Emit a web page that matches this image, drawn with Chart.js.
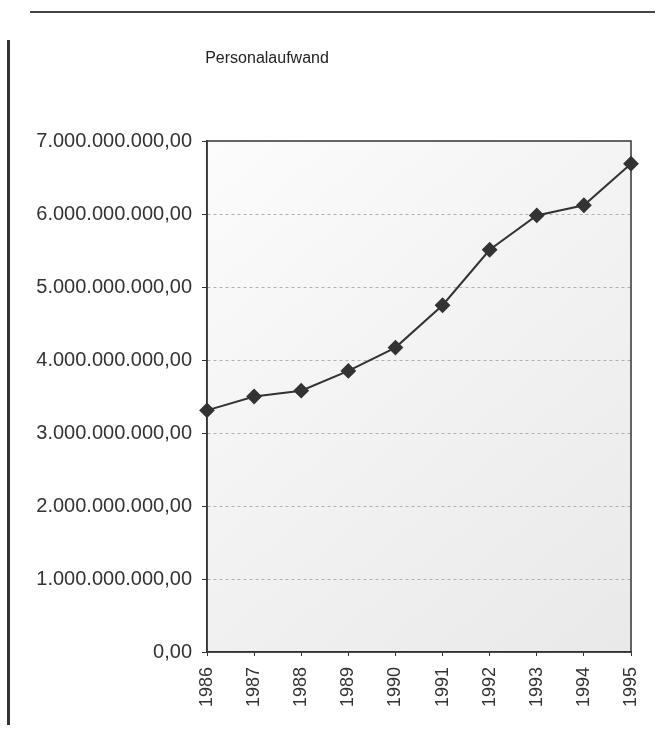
<!DOCTYPE html>
<html>
<head>
<meta charset="utf-8">
<script src="https://cdn.jsdelivr.net/npm/chart.js@4"></script>
<style>
  html, body { margin: 0; padding: 0; background: #ffffff; }
  #wrap { position: relative; width: 669px; height: 743px; }
  #topline { position: absolute; left: 30px; top: 11px; width: 625px; height: 2px; background: #444; }
  #leftline { position: absolute; left: 7px; top: 40px; width: 3px; height: 685px; background: #333; }
  canvas { position: absolute; left: 0; top: 0; }
</style>
</head>
<body>
<div id="wrap">
  <div id="topline"></div>
  <div id="leftline"></div>
  <canvas id="c" width="669" height="743"></canvas>
</div>
<script>
const chartTitle = 'Personalaufwand';
const years = ['1986','1987','1988','1989','1990','1991','1992','1993','1994','1995'];
const personalaufwand = [3.31e9, 3.50e9, 3.58e9, 3.85e9, 4.17e9, 4.75e9, 5.51e9, 5.98e9, 6.12e9, 6.69e9];
const yTickValues = [0, 1e9, 2e9, 3e9, 4e9, 5e9, 6e9, 7e9];
const yTickLabels = ['0,00','1.000.000.000,00','2.000.000.000,00','3.000.000.000,00','4.000.000.000,00','5.000.000.000,00','6.000.000.000,00','7.000.000.000,00'];

const FONT = '"Liberation Sans", Arial, sans-serif';

const framePlugin = {
  id: 'frame',
  beforeDraw(chart) {
    const {ctx, chartArea: a} = chart;
    ctx.save();
    const g = ctx.createLinearGradient(a.left, a.top, a.right, a.bottom);
    g.addColorStop(0, '#fcfcfc');
    g.addColorStop(0.45, '#f3f3f3');
    g.addColorStop(1, '#e9e9e9');
    ctx.fillStyle = g;
    ctx.fillRect(a.left, a.top, a.right - a.left, a.bottom - a.top);
    ctx.restore();
  },
  afterDatasetsDraw(chart) {
    const {ctx, chartArea: a} = chart;
    ctx.save();
    ctx.setLineDash([]);
    ctx.strokeStyle = '#333';
    ctx.lineWidth = 1.5;
    ctx.strokeRect(a.left, a.top, a.right - a.left, a.bottom - a.top);
    ctx.restore();
  },
  afterDraw(chart) {
    const {ctx} = chart;
    ctx.save();
    ctx.fillStyle = '#222';
    ctx.font = '16px ' + FONT;
    ctx.textAlign = 'center';
    ctx.textBaseline = 'middle';
    ctx.fillText(chartTitle, 267, 59);
    ctx.restore();
  }
};

new Chart(document.getElementById('c'), {
  type: 'line',
  data: {
    labels: years,
    datasets: [{
      label: chartTitle,
      data: personalaufwand,
      borderColor: '#333',
      backgroundColor: '#333',
      borderWidth: 2,
      pointStyle: 'rectRot',
      pointRadius: 6.5,
      pointHoverRadius: 6.5,
      pointBackgroundColor: '#333',
      pointBorderColor: '#333',
      tension: 0
    }]
  },
  options: {
    responsive: false,
    animation: false,
    events: [],
    layout: { padding: { left: 0, right: 38, top: 141, bottom: 20 } },
    plugins: {
      legend: { display: false },
      title: { display: false },
      tooltip: { enabled: false }
    },
    scales: {
      x: {
        offset: false,
        grid: { display: true, drawOnChartArea: false, tickLength: 4, color: '#333' },
        border: { display: true, color: '#333', width: 1.5 },
        ticks: {
          color: '#333',
          font: { family: FONT, size: 18 },
          maxRotation: 90,
          minRotation: 90,
          padding: 11,
          autoSkip: false
        },
        afterFit(s) { s.height = 71; }
      },
      y: {
        min: 0,
        max: 7e9,
        afterBuildTicks(s) { s.ticks = yTickValues.map(v => ({ value: v })); },
        grid: {
          display: true,
          color: (c) => (c.tick && (c.tick.value === 0 || c.tick.value === 7e9)) ? 'rgba(0,0,0,0)' : '#b0b0b0',
          tickLength: 5,
          tickColor: '#333',
          tickBorderDash: [],
          lineWidth: 1
        },
        border: { display: true, color: '#333', width: 1.5, dash: [3, 3] },
        ticks: {
          color: '#333',
          font: { family: FONT, size: 20 },
          padding: 10,
          callback: (v, i) => yTickLabels[i]
        },
        afterFit(s) { s.width = 207; }
      }
    }
  },
  plugins: [framePlugin]
});
</script>
</body>
</html>
